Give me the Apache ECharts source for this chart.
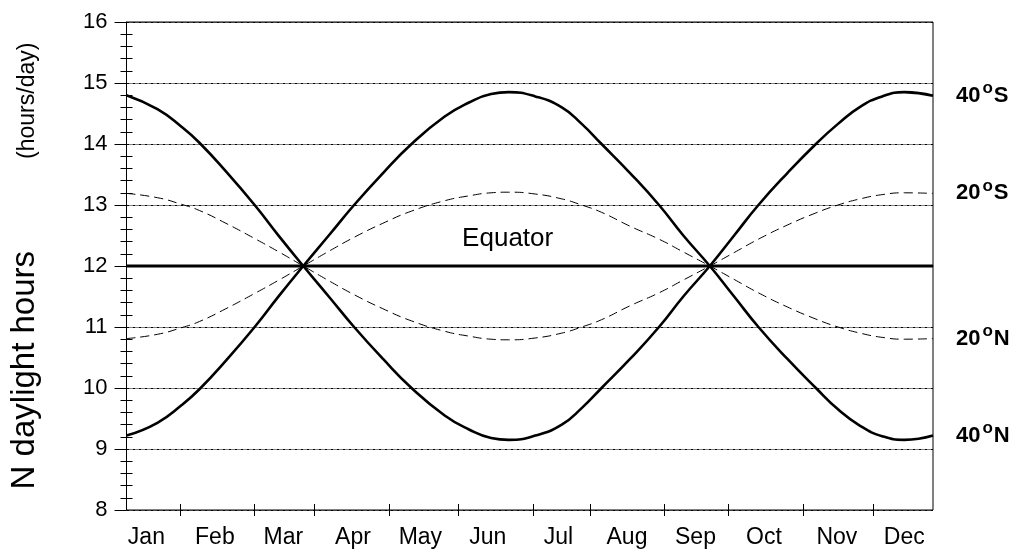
<!DOCTYPE html>
<html lang="en">
<head>
    <meta charset="UTF-8">
    <title>Daylight hours</title>
</head>
<body style="margin:0">
<div class="main" style="width: 1015px;height: 551px"></div>
</body>
<script src="https://cdn.jsdelivr.net/npm/echarts@6.0.0/dist/echarts.min.js"></script>
<script>
    // day of year for the sampled points
    var days = [0, 14, 25, 33, 45, 58, 69, 80, 92, 103, 116, 129, 144, 155, 165, 173, 185,
        197, 206, 215, 228, 241, 252, 264, 275, 286, 299, 312, 322, 332, 342, 352, 365];
    // daylight hours
    var lat40S = [14.80, 14.57, 14.28, 14.02, 13.55, 13.00, 12.49, 12.00, 11.48, 11.00, 10.48, 10.00, 9.55, 9.32, 9.18, 9.15, 9.22,
        9.40, 9.67, 10.00, 10.48, 11.00, 11.50, 12.00, 12.50, 13.00, 13.52, 14.00, 14.33, 14.61, 14.78, 14.85, 14.79];
    var lat20S = [13.19, 13.12, 13.01, 12.91, 12.70, 12.45, 12.23, 12.00, 11.75, 11.53, 11.30, 11.10, 10.93, 10.85, 10.80, 10.79, 10.82,
        10.90, 11.00, 11.12, 11.35, 11.56, 11.77, 12.00, 12.22, 12.44, 12.67, 12.87, 13.00, 13.10, 13.17, 13.20, 13.19];
    var lat20N = [10.81, 10.88, 10.99, 11.09, 11.30, 11.55, 11.77, 12.00, 12.25, 12.47, 12.70, 12.90, 13.07, 13.15, 13.20, 13.21, 13.18,
        13.10, 13.00, 12.88, 12.65, 12.44, 12.23, 12.00, 11.78, 11.56, 11.33, 11.13, 11.00, 10.90, 10.83, 10.80, 10.81];
    var lat40N = [9.22, 9.43, 9.72, 9.98, 10.45, 11.00, 11.51, 12.00, 12.52, 13.00, 13.52, 14.00, 14.45, 14.68, 14.82, 14.85, 14.78,
        14.60, 14.33, 14.00, 13.52, 13.00, 12.50, 12.00, 11.50, 11.00, 10.48, 10.00, 9.65, 9.38, 9.21, 9.15, 9.22];
    var equatorDays = [0, 172.5, 365];
    var equatorHours = [12, 12, 12];

    var months = ['Jan', 'Feb', 'Mar', 'Apr', 'May', 'Jun', 'Jul', 'Aug', 'Sep', 'Oct', 'Nov', 'Dec'];
    var monthLabelDays = [9.2, 39.9, 71.1, 102.7, 133, 163.7, 195.7, 226.4, 257.5, 288.3, 321.3, 352];
    var monthTickDays = [24.5, 57.9, 85, 118.9, 150.1, 184, 210.1, 243.6, 272.5, 306.4, 338];

    // half-day categories so the odd tick spots can be hit
    var halfDays = [];
    for (var i = 0; i <= 730; i++) halfDays.push(i / 2);
    var tickIdx = monthTickDays.map(function (d) { return Math.round(d * 2); });
    var labelIdx = monthLabelDays.map(function (d) { return Math.round(d * 2); });

    var font = '"Liberation Sans", Arial, sans-serif';

    function pairs(xs, ys) {
        return xs.map(function (x, i) { return [x, ys[i]]; });
    }

    function latLabel(num, hemi) {
        return {
            show: true,
            distance: 23,
            formatter: '{a|' + num + '}{o|o}{a|' + hemi + '}',
            rich: {
                a: {fontSize: 22, fontWeight: 'bold', color: '#000', fontFamily: font, lineHeight: 32},
                o: {fontSize: 17, fontWeight: 'bold', color: '#000', fontFamily: font, verticalAlign: 'top', lineHeight: 16, padding: [0, 1, 0, 2]}
            }
        };
    }

    var main = document.querySelector(".main");
    var chart = echarts.init(main);

    var option = {
        animation: false,
        backgroundColor: '#fff',
        textStyle: {fontFamily: font, color: '#000'},
        grid: {
            left: 125, right: 82, top: 22, bottom: 41,
            show: true, borderColor: '#000', borderWidth: 1, backgroundColor: 'transparent'
        },
        xAxis: [
            {type: 'value', min: 0, max: 365, show: false},
            {
                type: 'category',
                data: halfDays,
                boundaryGap: false,
                position: 'bottom',
                offset: -6,
                axisLine: {show: false},
                axisTick: {
                    show: true, length: 12,
                    interval: function (index) { return tickIdx.indexOf(index) >= 0; },
                    lineStyle: {color: '#000', width: 1}
                },
                axisLabel: {
                    show: true, margin: 22, fontSize: 23, color: '#000', fontFamily: font,
                    interval: function (index) { return labelIdx.indexOf(index) >= 0; },
                    formatter: function (v, index) {
                        var k = labelIdx.indexOf(index);
                        return k >= 0 ? months[k] : '';
                    }
                },
                splitLine: {show: false}
            }
        ],
        yAxis: [
            {
                type: 'value', min: 8, max: 16, interval: 1,
                name: '{a|N daylight hours}{gap|}{b|(hours/day)}',
                nameLocation: 'middle',
                nameRotate: 90,
                nameGap: 84,
                nameTextStyle: {
                    rich: {
                        a: {fontSize: 33, color: '#000', fontFamily: font, lineHeight: 36},
                        b: {fontSize: 23, color: '#000', fontFamily: font, lineHeight: 26, verticalAlign: 'bottom', padding: [0, 0, 3, 0]},
                        gap: {width: 92}
                    }
                },
                axisLine: {show: true, lineStyle: {color: '#000', width: 1}},
                axisTick: {show: true, length: 12, lineStyle: {color: '#000', width: 1}},
                axisLabel: {margin: 19, fontSize: 22, color: '#000', fontFamily: font},
                splitLine: {show: true, lineStyle: {color: '#000', width: 1, type: [3, 1, 1, 1]}}
            },
            {
                type: 'value', min: 8, max: 16, interval: 1,
                position: 'left',
                offset: -6,
                axisLine: {show: false},
                axisTick: {show: false},
                axisLabel: {show: false},
                splitLine: {show: false},
                minorTick: {show: true, splitNumber: 5, length: 12, lineStyle: {color: '#000', width: 1}}
            }
        ],
        series: [
            {
                name: '40S', type: 'line', xAxisIndex: 0, yAxisIndex: 0, smooth: 0.5, symbol: 'none',
                lineStyle: {color: '#000', width: 2.6},
                endLabel: latLabel('40', 'S'),
                data: pairs(days, lat40S)
            },
            {
                name: '20S', type: 'line', xAxisIndex: 0, yAxisIndex: 0, smooth: 0.5, symbol: 'none',
                lineStyle: {color: '#000', width: 1, type: [9, 5]},
                endLabel: latLabel('20', 'S'),
                data: pairs(days, lat20S)
            },
            {
                name: 'Equator', type: 'line', xAxisIndex: 0, yAxisIndex: 0,
                symbol: 'circle', symbolSize: 1, showSymbol: true,
                itemStyle: {color: '#000'},
                lineStyle: {color: '#000', width: 3},
                data: pairs(equatorDays, equatorHours).map(function (p, i) {
                    if (i !== 1) return p;
                    return {
                        value: p,
                        label: {show: true, position: 'top', distance: 14, formatter: 'Equator',
                            fontSize: 26, color: '#000', fontFamily: font}
                    };
                })
            },
            {
                name: '20N', type: 'line', xAxisIndex: 0, yAxisIndex: 0, smooth: 0.5, symbol: 'none',
                lineStyle: {color: '#000', width: 1, type: [9, 5]},
                endLabel: latLabel('20', 'N'),
                data: pairs(days, lat20N)
            },
            {
                name: '40N', type: 'line', xAxisIndex: 0, yAxisIndex: 0, smooth: 0.5, symbol: 'none',
                lineStyle: {color: '#000', width: 2.6},
                endLabel: latLabel('40', 'N'),
                data: pairs(days, lat40N)
            }
        ]
    };
    chart.setOption(option);
</script>
</html>
